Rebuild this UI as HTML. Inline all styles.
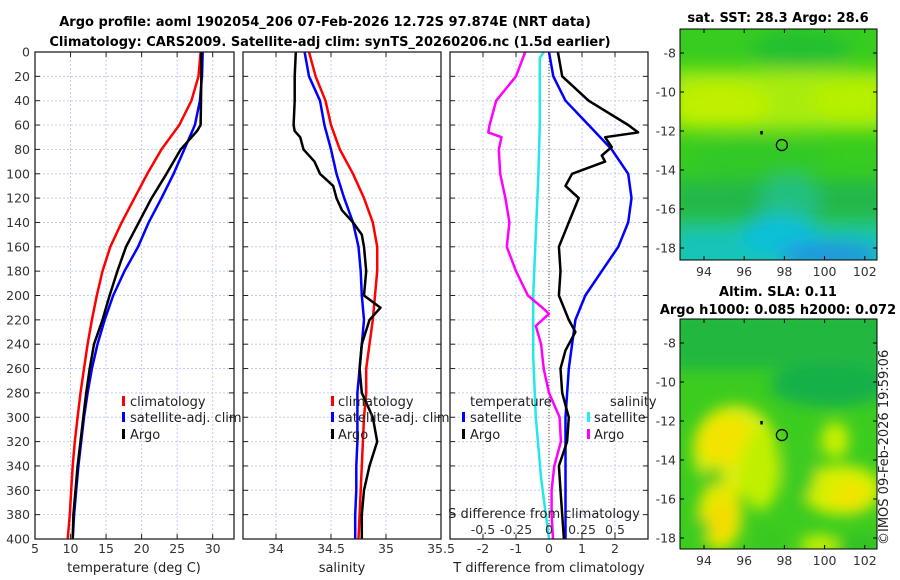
<!DOCTYPE html>
<html><head><meta charset="utf-8">
<style>
body{margin:0;background:#fff;}
svg{display:block;font-family:"DejaVu Sans","Liberation Sans",sans-serif;}
.t{font-size:13px;fill:#222;}
.tk{font-size:12.5px;fill:#333;}
.ti{font-size:13px;font-weight:bold;fill:#000;}
</style></head>
<body>
<svg id="fig" width="900" height="580" viewBox="0 0 900 580">
<defs>
<filter id="blur1" x="-50%" y="-50%" width="200%" height="200%"><feGaussianBlur stdDeviation="9"/></filter>
<filter id="blur2" x="-50%" y="-50%" width="200%" height="200%"><feGaussianBlur stdDeviation="7"/></filter>
<clipPath id="cm1"><rect x="680" y="29" width="197" height="231"/></clipPath>
<clipPath id="cm2"><rect x="680" y="319" width="197" height="230"/></clipPath>
<clipPath id="cp1"><rect x="35" y="52" width="199" height="487"/></clipPath>
<clipPath id="cp2"><rect x="243" y="52" width="198" height="487"/></clipPath>
<clipPath id="cp3"><rect x="450" y="52" width="198" height="487"/></clipPath>
</defs>
<text class="ti" x="325" y="26" text-anchor="middle">Argo profile: aoml 1902054_206 07-Feb-2026 12.72S 97.874E (NRT data)</text>
<text class="ti" x="330" y="46" text-anchor="middle">Climatology: CARS2009. Satellite-adj clim: synTS_20260206.nc (1.5d earlier)</text>

<g id="maps">
<text class="ti" x="778" y="22" text-anchor="middle">sat. SST: 28.3 Argo: 28.6</text>
<g clip-path="url(#cm1)">
<rect x="680" y="29" width="197" height="231" fill="#38cc20"/>
<g filter="url(#blur1)">
<rect x="670" y="70" width="220" height="60" fill="#a8ec10"/>
<ellipse cx="720" cy="105" rx="50" ry="22" fill="#c0f000"/>
<ellipse cx="850" cy="100" rx="40" ry="18" fill="#b8f000"/>
<ellipse cx="800" cy="50" rx="50" ry="20" fill="#22c030"/>
<ellipse cx="760" cy="160" rx="70" ry="20" fill="#30c828"/>
<rect x="670" y="180" width="220" height="40" fill="#22b848"/>
<ellipse cx="790" cy="200" rx="30" ry="25" fill="#20c080"/>
<rect x="670" y="225" width="220" height="50" fill="#18c4b8"/>
<ellipse cx="780" cy="235" rx="40" ry="20" fill="#10c0d8"/>
<ellipse cx="830" cy="255" rx="50" ry="12" fill="#2090e0"/>
</g>
</g>
<rect x="680" y="29" width="197" height="231" fill="none" stroke="#000" stroke-width="1"/>
<text class="ti" x="778" y="296" text-anchor="middle">Altim. SLA: 0.11</text>
<text class="ti" x="778" y="314" text-anchor="middle">Argo h1000: 0.085 h2000: 0.072</text>
<g clip-path="url(#cm2)">
<rect x="680" y="319" width="197" height="230" fill="#3ccc20"/>
<g filter="url(#blur2)">
<rect x="670" y="310" width="230" height="60" fill="#20b840"/>
<ellipse cx="830" cy="385" rx="60" ry="22" fill="#18b048"/>
<ellipse cx="735" cy="450" rx="42" ry="45" fill="#d8ee10"/>
<ellipse cx="725" cy="440" rx="28" ry="25" fill="#f2e400"/>
<ellipse cx="720" cy="515" rx="22" ry="35" fill="#e8e800"/>
<ellipse cx="722" cy="520" rx="12" ry="18" fill="#f4dc00"/>
<ellipse cx="713" cy="477" rx="10" ry="10" fill="#48cc20"/>
<ellipse cx="842" cy="490" rx="40" ry="25" fill="#d8f000"/>
<ellipse cx="850" cy="495" rx="18" ry="14" fill="#f0e400"/>
<ellipse cx="835" cy="440" rx="14" ry="18" fill="#c8f000"/>
<ellipse cx="760" cy="470" rx="20" ry="40" fill="#c0f000"/>
<ellipse cx="800" cy="470" rx="16" ry="30" fill="#3ccc20"/>
<ellipse cx="770" cy="540" rx="14" ry="12" fill="#38c820"/>
<ellipse cx="820" cy="545" rx="20" ry="10" fill="#c8f000"/>
<ellipse cx="700" cy="530" rx="10" ry="12" fill="#40cc20"/>
<ellipse cx="860" cy="545" rx="22" ry="10" fill="#30c028"/>
</g>
</g>
<rect x="680" y="319" width="197" height="230" fill="none" stroke="#000" stroke-width="1"/>
<text x="888" y="545" transform="rotate(-90 888 545)" style="font-size:13px;fill:#222">©IMOS 09-Feb-2026 19:59:06</text>
</g>
<g id="axes"></g>
</svg>
<script>
// ---- data ----
const depthTicks=[0,20,40,60,80,100,120,140,160,180,200,220,240,260,280,300,320,340,360,380,400];
const tempTicks=[5,10,15,20,25,30];
const salTicks=[34,34.5,35,35.5];
const tdiffTicks=[-2,-1,0,1,2];
const sdiffTicks=[-0.5,-0.25,0,0.25,0.5];
const tempDepth=[0,20,40,60,65,80,100,120,140,160,180,200,220,240,260,280,300,320,340,360,380,400];
const tempArgo=[28.4,28.4,28.35,28.3,27.8,25.5,23.5,21.4,19.6,17.8,16.6,15.5,14.5,13.3,12.7,12.2,11.8,11.4,11.0,10.7,10.4,10.3];
const tempClimDepth=[0,20,40,60,80,100,120,140,160,180,200,220,240,260,280,300,320,340,360,380,400];
const tempClim=[28.3,28.0,27.0,25.3,22.8,20.8,19.0,17.2,15.6,14.5,13.7,13.0,12.4,11.9,11.4,11.0,10.6,10.3,10.1,9.9,9.6];
const tempSat=[28.6,28.5,28.2,27.5,26.0,24.5,22.8,21.0,19.5,17.6,16.0,14.8,13.8,13.0,12.4,11.9,11.5,11.1,10.8,10.5,10.3];
const salArgoDepth=[0,20,40,60,65,70,80,90,100,110,120,130,140,150,160,180,200,210,220,240,260,280,300,320,340,360,380,400];
const salArgo=[34.18,34.17,34.17,34.16,34.17,34.22,34.25,34.35,34.4,34.52,34.55,34.6,34.7,34.78,34.8,34.82,34.8,34.95,34.85,34.78,34.76,34.78,34.88,34.92,34.85,34.8,34.78,34.78];
const salClimDepth=[0,20,40,60,80,100,120,140,160,180,200,220,240,260,280,300,320,340,360,380,400];
const salClim=[34.3,34.36,34.45,34.5,34.58,34.7,34.8,34.88,34.92,34.92,34.9,34.88,34.85,34.82,34.82,34.8,34.79,34.78,34.77,34.76,34.75];
const salSat=[34.26,34.3,34.4,34.44,34.5,34.55,34.62,34.7,34.75,34.77,34.78,34.8,34.78,34.76,34.74,34.74,34.74,34.73,34.73,34.72,34.72];
const tdArgoDepth=[0,20,40,60,66,70,78,85,90,100,110,120,140,160,180,200,220,230,245,260,280,300,320,340,360,380,400];
const tdArgo=[0.27,0.4,1.2,2.4,2.7,1.7,1.9,1.6,1.7,0.7,0.5,0.9,0.6,0.3,0.35,0.3,0.6,0.8,0.5,0.35,0.4,0.6,0.55,0.3,0.35,0.4,0.45];
const tdSatDepth=[0,20,40,60,80,100,120,140,160,180,200,220,240,260,300,400];
const tdSat=[0.0,0.13,0.5,1.2,1.9,2.4,2.5,2.4,2.1,1.6,1.1,0.8,0.7,0.6,0.5,0.5];
const sdArgoDepth=[0,20,40,60,66,70,80,100,120,140,160,180,200,210,215,225,240,260,280,300,320,340,360,380,400];
const sdArgo=[-0.18,-0.25,-0.4,-0.45,-0.46,-0.36,-0.38,-0.37,-0.33,-0.3,-0.32,-0.25,-0.16,-0.05,0.0,-0.1,-0.06,-0.04,0.0,0.08,0.09,0.04,0.02,0.02,0.03];
const sdSatDepth=[0,5,60,100,150,200,250,300,350,400];
const sdSat=[-0.04,-0.07,-0.07,-0.08,-0.1,-0.12,-0.12,-0.1,-0.06,0.0];

// ---- scales ----
const Y0=52,Y1=539;
const yD=d=>Y0+(d/400)*(Y1-Y0);
const xT=t=>35+(t-5)*(234-35)/28;
const xS=s=>243+(s-33.7)*(441-243)/1.8;
const xTD=t=>450+(t+3)*(648-450)/6;
const xSD=s=>xTD(s*4);
const NS='http://www.w3.org/2000/svg';
const G=document.getElementById('axes');
function mk(tag,attrs,parent){const e=document.createElementNS(NS,tag);for(const k in attrs)e.setAttribute(k,attrs[k]);(parent||G).appendChild(e);return e;}
function panel(x0,x1,name,xticks,xf,labelf,xlabel,showY){
  const g=mk('g',{});
  
  
  xticks.forEach(v=>{const x=xf(v);mk('line',{x1:x,x2:x,y1:Y0,y2:Y1,stroke:'#c4cdf0','stroke-dasharray':'2,2','stroke-width':1},g);});
  depthTicks.forEach(d=>{const y=yD(d);mk('line',{x1:x0,x2:x1,y1:y,y2:y,stroke:'#c4cdf0','stroke-dasharray':'2,2','stroke-width':1},g);
    mk('line',{x1:x0,x2:x0+5,y1:y,y2:y,stroke:'#222'},g);mk('line',{x1:x1-5,x2:x1,y1:y,y2:y,stroke:'#222'},g);
    if(showY){const t=mk('text',{x:x0-5,y:y+4.5,'text-anchor':'end',class:'tk'},g);t.textContent=d;
      
      }
  });
  xticks.forEach(v=>{const x=xf(v);mk('line',{x1:x,x2:x,y1:Y1,y2:Y1-5,stroke:'#222'},g);mk('line',{x1:x,x2:x,y1:Y0,y2:Y0+5,stroke:'#222'},g);});
  return g;
}
function xlabels(g,ticks,xf,y,fmt){ticks.forEach(v=>{const t=mk('text',{x:xf(v),y:y,'text-anchor':'middle',class:'tk'},g);t.textContent=fmt?fmt(v):v;
  
  });}
function line(g,xs,ds,xf,color,w,clip,name){
  const pts=xs.map((v,i)=>xf(v).toFixed(1)+','+yD(ds[i]).toFixed(1)).join(' ');
  const p=mk('polyline',{points:pts,fill:'none',stroke:color,'stroke-width':w,'stroke-linejoin':'round','clip-path':'url(#'+clip+')'},g);
  
  
}
function txt(g,x,y,s,name,anchor,cls){const t=mk('text',{x:x,y:y,'text-anchor':anchor||'start',class:cls||'t'},g);t.textContent=s;
  
  return t;}
function legMark(g,x,y,c){mk('rect',{x:x,y:y-10,width:3,height:10,fill:c},g);}

// Panel 1
const g1=panel(35,234,'temperature-panel',tempTicks,xT,null,null,true);
line(g1,tempClim,tempClimDepth,xT,'#ff0000',2.5,'cp1','climatology-temp-line');
line(g1,tempSat,tempClimDepth,xT,'#0000ff',2.5,'cp1','satellite-temp-line');
line(g1,tempArgo,tempDepth,xT,'#000',2.5,'cp1','argo-temp-line');
xlabels(g1,[5,10,15,20,25,30],xT,553);
txt(g1,134,572,'temperature (deg C)','x-axis-title-temperature','middle');
legMark(g1,122,406,'#f00');txt(g1,130,406,'climatology','legend-climatology');
legMark(g1,122,422,'#00f');txt(g1,130,422,'satellite-adj. clim','legend-satellite');
legMark(g1,122,439,'#000');txt(g1,130,439,'Argo','legend-argo');

// Panel 2
const g2=panel(243,441,'salinity-panel',salTicks,xS,null,null,false);
line(g2,salClim,salClimDepth,xS,'#ff0000',2.5,'cp2','climatology-sal-line');
line(g2,salSat,salClimDepth,xS,'#0000ff',2.5,'cp2','satellite-sal-line');
line(g2,salArgo,salArgoDepth,xS,'#000',2.5,'cp2','argo-sal-line');
xlabels(g2,salTicks,xS,553);
txt(g2,342,572,'salinity','x-axis-title-salinity','middle');
legMark(g2,331,406,'#f00');txt(g2,338,406,'climatology','legend-climatology-2');
legMark(g2,331,422,'#00f');txt(g2,338,422,'satellite-adj. clim','legend-satellite-2');
legMark(g2,331,439,'#000');txt(g2,338,439,'Argo','legend-argo-2');

// Panel 3
const g3=panel(450,648,'difference-panel',tdiffTicks,xTD,null,null,false);
mk('line',{x1:xTD(0),x2:xTD(0),y1:Y0,y2:Y1,stroke:'#554433','stroke-dasharray':'1,2','stroke-width':1},g3);
line(g3,sdSat,sdSatDepth,xSD,'#22e8e8',2.5,'cp3','satellite-sdiff-line');
line(g3,sdArgo,sdArgoDepth,xSD,'#ff00ff',2.5,'cp3','argo-sdiff-line');
line(g3,tdSat,tdSatDepth,xTD,'#0000ff',2.5,'cp3','satellite-tdiff-line');
line(g3,tdArgo,tdArgoDepth,xTD,'#000',2.5,'cp3','argo-tdiff-line');
xlabels(g3,tdiffTicks,xTD,553);
txt(g3,549,572,'T difference from climatology','x-axis-title-tdiff','middle');
txt(g3,544,518,'S difference from climatology','s-axis-title','middle');
xlabels(g3,sdiffTicks,xSD,534,v=>String(v));
txt(g3,470,406,'temperature','legend-temperature-header');
txt(g3,610,406,'salinity','legend-salinity-header');
legMark(g3,462,422,'#00f');txt(g3,470,422,'satellite','legend-t-satellite');
legMark(g3,462,439,'#000');txt(g3,470,439,'Argo','legend-t-argo');
legMark(g3,587,422,'#2ee');txt(g3,594,422,'satellite','legend-s-satellite');
legMark(g3,587,439,'#f0f');txt(g3,594,439,'Argo','legend-s-argo');
[[35,234],[243,441],[450,648]].forEach(([a,b])=>mk('rect',{x:a,y:Y0,width:b-a,height:Y1-Y0,fill:'none',stroke:'#222','stroke-width':1.3}));

// Map axes
const lonTicks=[94,96,98,100,102];
const latTicks=[-8,-10,-12,-14,-16,-18];
const xLon=l=>704+(l-94)*20.1;
function mapAxes(top,bot,lat8,lat18,name){
  const yL=l=>lat8+(l+8)*(lat18-lat8)/(-10);
  const g=mk('g',{});
  
  
  latTicks.forEach(l=>{const y=yL(l);mk('line',{x1:680,x2:684,y1:y,y2:y,stroke:'#000'},g);mk('line',{x1:873,x2:877,y1:y,y2:y,stroke:'#000'},g);
    const t=mk('text',{x:676,y:y+4.5,'text-anchor':'end',class:'tk'},g);t.textContent=l;
    
    });
  lonTicks.forEach(l=>{const x=xLon(l);mk('line',{x1:x,x2:x,y1:bot,y2:bot-4,stroke:'#000'},g);mk('line',{x1:x,x2:x,y1:top,y2:top+4,stroke:'#000'},g);
    const t=mk('text',{x:x,y:bot+16,'text-anchor':'middle',class:'tk'},g);t.textContent=l;
    
    });
  const px=xLon(97.874),py=yL(-12.72);
  const c=mk('circle',{cx:px,cy:py,r:5.5,fill:'none',stroke:'#000','stroke-width':1.3},g);
  
  
  mk('rect',{x:xLon(96.85)-1,y:yL(-12.1)-2,width:2.5,height:3.5,fill:'#000'},g);
}
mapAxes(29,260,53,248,'sst-map-axes');
mapAxes(319,549,343,538,'sla-map-axes');
</script>
</body></html>
